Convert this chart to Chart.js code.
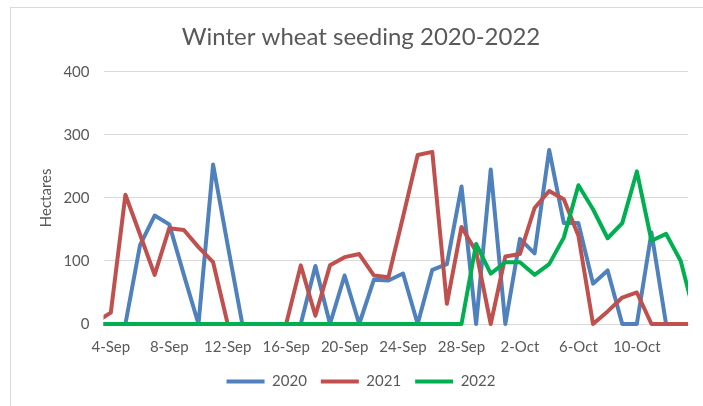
<!DOCTYPE html>
<html>
<head>
<meta charset="utf-8">
<script src="https://cdn.jsdelivr.net/npm/chart.js@4.4.1/dist/chart.umd.min.js"></script>
<style>
  html, body { margin: 0; padding: 0; background: #ffffff; }
  #wrap { position: relative; width: 703px; height: 406px; overflow: hidden; }
  #frame { position: absolute; left: 10px; top: 7px; width: 720px; height: 420px; border: 1px solid #d9d9d9; box-sizing: border-box; }
  #c { position: absolute; left: 0; top: 0; }
</style>
</head>
<body>
<div id="wrap">
  <div id="frame"></div>
  <canvas id="c" width="703" height="406"></canvas>
</div>
<script>
// Daily categories (3-Sep and 14-Oct lie just outside the visible axis range)
const dates = [
  '3-Sep','4-Sep','5-Sep','6-Sep','7-Sep','8-Sep','9-Sep','10-Sep','11-Sep','12-Sep',
  '13-Sep','14-Sep','15-Sep','16-Sep','17-Sep','18-Sep','19-Sep','20-Sep','21-Sep','22-Sep',
  '23-Sep','24-Sep','25-Sep','26-Sep','27-Sep','28-Sep','29-Sep','30-Sep','1-Oct','2-Oct',
  '3-Oct','4-Oct','5-Oct','6-Oct','7-Oct','8-Oct','9-Oct','10-Oct','11-Oct','12-Oct',
  '13-Oct','14-Oct'
];
const tickLabels = ['4-Sep','8-Sep','12-Sep','16-Sep','20-Sep','24-Sep','28-Sep','2-Oct','6-Oct','10-Oct'];
const firstShown = '4-Sep';
const lastShown = '13-Oct';

const seriesNames = ['2020', '2021', '2022'];
const values2020 = [
  0, 0, 0, 125, 172, 158, 78, 0, 253, 125,
  0, 0, 0, 0, 0, 92, 0, 77, 0, 70,
  69, 80, 0, 86, 95, 218, 0, 245, 0, 135,
  112, 276, 160, 160, 64, 85, 0, 0, 145, 0,
  0, 0
];
const values2021 = [
  3, 18, 205, 142, 78, 152, 149, 122, 98, 0,
  0, 0, 0, 0, 93, 13, 93, 106, 111, 77,
  74, 170, 268, 273, 32, 154, 115, 0, 107, 111,
  184, 211, 198, 140, 0, 20, 42, 50, 0, 0,
  0, 0
];
const values2022 = [
  0, 0, 0, 0, 0, 0, 0, 0, 0, 0,
  0, 0, 0, 0, 0, 0, 0, 0, 0, 0,
  0, 0, 0, 0, 0, 0, 127, 80, 98, 98,
  78, 95, 137, 220, 182, 136, 160, 242, 132, 143,
  100, 10
];
const yTicks = [0, 100, 200, 300, 400];

const colors = ['#4F81BD', '#C0504D', '#00B050'];
const allValues = [values2020, values2021, values2022];
const textColor = '#595959';
const FONT = "Lato, 'Open Sans', sans-serif";

const toPoints = arr => arr.map((v, i) => ({ x: i, y: v }));

const datasets = seriesNames.map((name, k) => ({
  label: name,
  data: toPoints(allValues[k]),
  borderColor: colors[k],
  backgroundColor: colors[k],
  borderWidth: 4,
  pointRadius: 0,
  pointHoverRadius: 0,
  tension: 0,
  fill: false,
  borderJoinStyle: 'round',
  borderCapStyle: 'round',
  order: seriesNames.length - k,
  clip: { left: 0, right: 0, top: 6, bottom: 6 }
}));

const xMin = dates.indexOf(firstShown) - 0.5;
const xMax = dates.indexOf(lastShown) + 0.5;

new Chart(document.getElementById('c'), {
  type: 'line',
  data: { datasets },
  options: {
    responsive: false,
    animation: false,
    events: [],
    layout: { padding: { left: 34, right: 15, top: 0, bottom: 7 } },
    plugins: {
      title: {
        display: true,
        text: 'Winter wheat seeding 2020-2022',
        color: textColor,
        font: { family: FONT, size: 24, weight: 'normal' },
        padding: { top: 23, bottom: 20 }
      },
      legend: {
        display: true,
        position: 'bottom',
        labels: {
          color: textColor,
          font: { family: FONT, size: 15 },
          boxWidth: 38,
          boxHeight: 4,
          padding: 14,
          generateLabels: chart => chart.data.datasets.map((ds, i) => ({
            text: ds.label,
            fillStyle: ds.borderColor,
            strokeStyle: ds.borderColor,
            lineWidth: 0,
            hidden: false,
            datasetIndex: i,
            fontColor: textColor
          }))
        }
      },
      tooltip: { enabled: false }
    },
    scales: {
      x: {
        type: 'linear',
        min: xMin,
        max: xMax,
        afterBuildTicks: s => { s.ticks = tickLabels.map(l => ({ value: dates.indexOf(l) })); },
        afterFit: s => { s.height = 36; },
        ticks: {
          autoSkip: false,
          maxRotation: 0,
          padding: 14,
          color: textColor,
          font: { family: FONT, size: 15 },
          callback: v => dates[v]
        },
        grid: { display: false, drawTicks: false },
        border: { display: true, color: '#d9d9d9' }
      },
      y: {
        min: 0,
        max: 400,
        afterBuildTicks: s => { s.ticks = yTicks.map(v => ({ value: v })); },
        afterFit: s => { s.width = 69.5; },
        ticks: {
          padding: 14,
          color: textColor,
          font: { family: FONT, size: 15 }
        },
        grid: { color: '#d9d9d9', lineWidth: 1, drawTicks: false },
        border: { display: false },
        title: {
          display: true,
          text: 'Hectares',
          color: textColor,
          font: { family: FONT, size: 15 },
          padding: { top: 3.5, bottom: 0 }
        }
      }
    }
  }
});
</script>
</body>
</html>
